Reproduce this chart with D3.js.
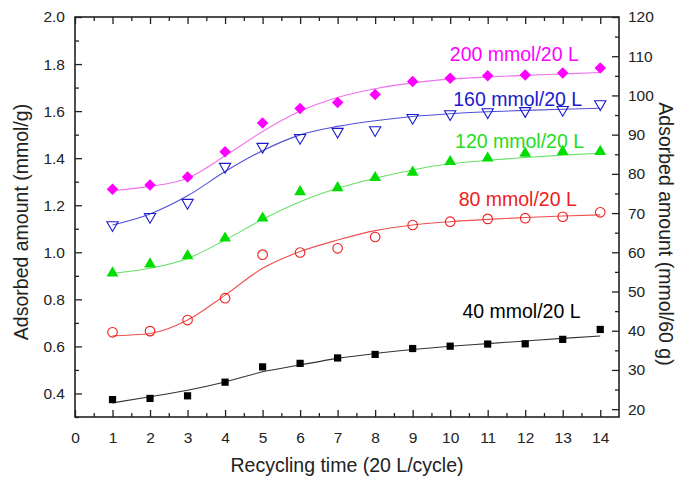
<!DOCTYPE html>
<html>
<head>
<meta charset="utf-8">
<script src="https://cdn.jsdelivr.net/npm/d3@7"></script>
<style>
  body { margin: 0; background: #fff; }
  svg { font-family: Arial, "Liberation Sans", sans-serif; }
</style>
</head>
<body>
<svg id="chart" width="683" height="479"></svg>
<script>
// recycling cycles (x)
const cycles = [1, 2, 3, 4, 5, 6, 7, 8, 9, 10, 11, 12, 13, 14];

// measured adsorbed amount (mmol/g), one array per feed concentration
const q200 = [1.268, 1.286, 1.320, 1.427, 1.549, 1.611, 1.637, 1.671, 1.726, 1.740, 1.750, 1.754, 1.762, 1.783];
const q160 = [1.116, 1.151, 1.211, 1.364, 1.449, 1.487, 1.513, 1.520, 1.572, 1.588, 1.596, 1.601, 1.606, 1.630];
const q120 = [0.912, 0.950, 0.985, 1.060, 1.145, 1.257, 1.274, 1.317, 1.340, 1.385, 1.400, 1.421, 1.428, 1.428];
const q80  = [0.660, 0.665, 0.712, 0.805, 0.990, 0.999, 1.017, 1.065, 1.116, 1.130, 1.142, 1.145, 1.151, 1.170];
const q40  = [0.374, 0.379, 0.390, 0.448, 0.513, 0.528, 0.551, 0.566, 0.591, 0.601, 0.610, 0.611, 0.630, 0.672];

// fitted curves at each cycle
const fit200 = [1.262, 1.280, 1.315, 1.410, 1.513, 1.600, 1.658, 1.695, 1.720, 1.736, 1.745, 1.752, 1.758, 1.764];
const fit160 = [1.116, 1.163, 1.240, 1.343, 1.432, 1.499, 1.535, 1.559, 1.577, 1.589, 1.597, 1.603, 1.608, 1.612];
const fit120 = [0.911, 0.932, 0.974, 1.052, 1.140, 1.215, 1.272, 1.315, 1.350, 1.376, 1.391, 1.403, 1.413, 1.421];
const fit80  = [0.645, 0.655, 0.712, 0.818, 0.932, 1.003, 1.052, 1.092, 1.116, 1.130, 1.140, 1.148, 1.154, 1.159];
const fit40  = [0.360, 0.386, 0.414, 0.449, 0.492, 0.521, 0.549, 0.570, 0.587, 0.601, 0.612, 0.623, 0.634, 0.644];

const seriesNames = ["200 mmol/20 L", "160 mmol/20 L", "120 mmol/20 L", "80 mmol/20 L", "40 mmol/20 L"];
// label anchor (cycle, mmol/g) for each series name
const labelAt = [[11.71, 1.811], [11.8, 1.622], [11.85, 1.445], [11.8, 1.197], [11.9, 0.722]];

const xTicks = d3.range(0, 15);
const yTicksLeft = [0.4, 0.6, 0.8, 1.0, 1.2, 1.4, 1.6, 1.8, 2.0];
const yTicksRight = [20, 30, 40, 50, 60, 70, 80, 90, 100, 110, 120];

const series = [
  { name: seriesNames[0], q: q200, fit: fit200, color: "#ff00ff", line: "#f070f0", symbol: d3.symbolSquare, size: 66, filled: true, rot: 45, label: labelAt[0] },
  { name: seriesNames[1], q: q160, fit: fit160, color: "#1a1acc", line: "#5050d8", symbol: d3.symbolTriangle, size: 55, filled: false, rot: 180, label: labelAt[1] },
  { name: seriesNames[2], q: q120, fit: fit120, color: "#00dd00", line: "#66e066", symbol: d3.symbolTriangle, size: 60, filled: true, rot: 0, label: labelAt[2] },
  { name: seriesNames[3], q: q80, fit: fit80, color: "#ee1c1c", line: "#ee5050", symbol: d3.symbolCircle, size: 72, filled: false, rot: 0, label: labelAt[3] },
  { name: seriesNames[4], q: q40, fit: fit40, color: "#000000", line: "#333333", symbol: d3.symbolSquare, size: 52, filled: true, rot: 0, label: labelAt[4] }
];

const svg = d3.select("#chart");
const margin = { top: 17, right: 64, bottom: 62, left: 75 };
const width = +svg.attr("width");
const height = +svg.attr("height");
const innerW = width - margin.left - margin.right;
const innerH = height - margin.top - margin.bottom;
const g = svg.append("g").attr("transform", `translate(${margin.left},${margin.top})`);

const x = d3.scaleLinear().domain([0, 14.5]).range([0, innerW]);
const y = d3.scaleLinear().domain([0.3, 2.0]).range([innerH, 0]);
const yR = d3.scaleLinear().domain([18, 120]).range([innerH, 0]);

// ticks (all inward)
const minorX = d3.range(0.5, 14.5, 1);
const minorY = d3.range(0.3, 2.0, 0.2);
const minorR = d3.range(25, 120, 10);

function styleAxis(sel) {
  sel.select(".domain").remove();
  sel.selectAll("line").attr("stroke", "#222").attr("stroke-width", 1.3);
  sel.selectAll("text").style("font-size", "15.5px").attr("fill", "#222");
}

g.append("g").attr("transform", `translate(0,${innerH})`)
  .call(d3.axisBottom(x).tickValues(xTicks).tickFormat(d3.format("d")).tickSizeInner(-7).tickPadding(15))
  .call(styleAxis);
g.append("g").attr("transform", `translate(0,${innerH})`)
  .call(d3.axisBottom(x).tickValues(minorX).tickFormat("").tickSizeInner(-4))
  .call(styleAxis);
g.append("g")
  .call(d3.axisTop(x).tickValues(xTicks).tickFormat("").tickSizeInner(-7))
  .call(styleAxis);
g.append("g")
  .call(d3.axisTop(x).tickValues(minorX).tickFormat("").tickSizeInner(-4))
  .call(styleAxis);

g.append("g")
  .call(d3.axisLeft(y).tickValues(yTicksLeft).tickFormat(d3.format(".1f")).tickSizeInner(-7).tickPadding(10))
  .call(styleAxis);
g.append("g")
  .call(d3.axisLeft(y).tickValues(minorY).tickFormat("").tickSizeInner(-4))
  .call(styleAxis);

g.append("g").attr("transform", `translate(${innerW},0)`)
  .call(d3.axisRight(yR).tickValues(yTicksRight).tickFormat(d3.format("d")).tickSizeInner(-7).tickPadding(9))
  .call(styleAxis);
g.append("g").attr("transform", `translate(${innerW},0)`)
  .call(d3.axisRight(yR).tickValues(minorR).tickFormat("").tickSizeInner(-4))
  .call(styleAxis);

// frame
g.append("rect")
  .attr("width", innerW).attr("height", innerH)
  .attr("fill", "none").attr("stroke", "#222").attr("stroke-width", 1.6);

// fitted curves
const line = d3.line()
  .x((d, i) => x(cycles[i]))
  .y(d => y(d))
  .curve(d3.curveMonotoneX);

series.forEach(s => {
  g.append("path")
    .datum(s.fit)
    .attr("d", line)
    .attr("fill", "none")
    .attr("stroke", s.line)
    .attr("stroke-width", 1.1);
});

// markers
series.forEach(s => {
  const sym = d3.symbol().type(s.symbol).size(s.size);
  g.selectAll(null)
    .data(s.q)
    .enter()
    .append("path")
    .attr("d", sym)
    .attr("transform", (d, i) => {
      let t = `translate(${x(cycles[i])},${y(d)})`;
      if (s.rot) t += ` rotate(${s.rot})`;
      return t;
    })
    .attr("fill", s.filled ? s.color : "none")
    .attr("stroke", s.color)
    .attr("stroke-width", s.filled ? 0 : 1.1);
});

// series labels
series.forEach(s => {
  g.append("text")
    .attr("x", x(s.label[0]))
    .attr("y", y(s.label[1]))
    .attr("text-anchor", "middle")
    .style("font-size", "19.5px")
    .attr("fill", s.color === "#00dd00" ? "#22dd22" : s.color)
    .text(s.name);
});

// axis titles
svg.append("text")
  .attr("x", margin.left + x(7.25))
  .attr("y", 472)
  .attr("text-anchor", "middle")
  .style("font-size", "19.5px")
  .attr("fill", "#222")
  .text("Recycling time (20 L/cycle)");

svg.append("text")
  .attr("transform", "translate(28,222) rotate(-90)")
  .attr("text-anchor", "middle")
  .style("font-size", "19.5px")
  .attr("fill", "#222")
  .text("Adsorbed amount (mmol/g)");

svg.append("text")
  .attr("transform", "translate(659,234) rotate(90)")
  .attr("text-anchor", "middle")
  .style("font-size", "19.5px")
  .attr("fill", "#222")
  .text("Adsorbed amount (mmol/60 g)");
</script>
</body>
</html>
